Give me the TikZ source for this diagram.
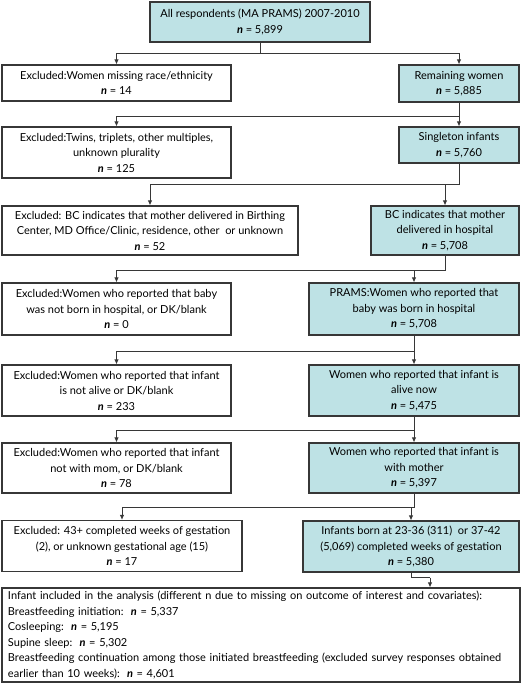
\documentclass[tikz,border=0pt]{standalone}
\usepackage{fontspec}
\setmainfont{Lato}
\usetikzlibrary{arrows.meta}
\definecolor{boxteal}{RGB}{190,226,229}
\definecolor{edgegray}{RGB}{55,55,55}
\tikzset{
  exclbox/.style  = {rectangle, draw=edgegray, line width=1.1pt, fill=white,
                     align=center, inner sep=2pt,
                     font=\fontsize{11}{15.5}\selectfont},
  keptbox/.style  = {exclbox, fill=boxteal},
  flowline/.style = {draw=edgegray, line width=0.9pt},
  flowarrow/.style = {flowline, -{Latex[length=5pt,width=4.5pt]}}
}
\newcommand{\nval}{\textbf{\textit{n}}}

\begin{document}
\begin{tikzpicture}[x=1pt, y=-1pt]
  \useasboundingbox (0,0) rectangle (522,685);
  % Top
  \node[keptbox, minimum width=220pt, minimum height=40pt] (all) at (260,22)
    {All respondents (MA PRAMS) 2007-2010\\ \nval{} = 5,899};
  % Row 1
  \node[exclbox, minimum width=229pt, minimum height=36pt] (ex1) at (116.5,83)
    {Excluded:Women missing race/ethnicity\\ \nval{} = 14};
  \node[keptbox, minimum width=120pt, minimum height=37pt] (rem) at (459,83.5)
    {Remaining women\\ \nval{} = 5,885};
  % Row 2
  \node[exclbox, minimum width=229pt, minimum height=51pt] (ex2) at (116.5,152.5)
    {Excluded:Twins, triplets, other multiples,\\ unknown plurality\\ \nval{} = 125};
  \node[keptbox, minimum width=120pt, minimum height=36pt] (sgl) at (459,145)
    {Singleton infants\\ \nval{} = 5,760};
  % Row 3
  \node[exclbox, minimum width=296pt, minimum height=49pt] (ex3) at (150,230.5)
    {Excluded: BC indicates that mother delivered in Birthing\\
     Center, MD Office/Clinic, residence, other\ \ or unknown\\ \nval{} = 52};
  \node[keptbox, minimum width=148pt, minimum height=49pt] (hosp) at (445,230.5)
    {BC indicates that mother\\ delivered in hospital\\ \nval{} = 5,708};
  % Row 4
  \node[exclbox, minimum width=229pt, minimum height=52pt] (ex4) at (116.5,309)
    {Excluded:Women who reported that baby\\ was not born in hospital, or DK/blank\\ \nval{} = 0};
  \node[keptbox, minimum width=210pt, minimum height=52pt] (prams) at (414,309)
    {PRAMS:Women who reported that\\ baby was born in hospital\\ \nval{} = 5,708};
  % Row 5
  \node[exclbox, minimum width=229pt, minimum height=51pt] (ex5) at (116.5,390.5)
    {Excluded:Women who reported that infant\\ is not alive or DK/blank\\ \nval{} = 233};
  \node[keptbox, minimum width=210pt, minimum height=51pt] (alive) at (414,390.5)
    {Women who reported that infant is\\ alive now\\ \nval{} = 5,475};
  % Row 6
  \node[exclbox, minimum width=229pt, minimum height=50pt] (ex6) at (116.5,468)
    {Excluded:Women who reported that infant\\ not with mom, or DK/blank\\ \nval{} = 78};
  \node[keptbox, minimum width=210pt, minimum height=50pt] (mother) at (414,468)
    {Women who reported that infant is\\ with mother\\ \nval{} = 5,397};
  % Row 7
  \node[exclbox, minimum width=240pt, minimum height=51pt] (ex7) at (122,546)
    {Excluded: 43+ completed weeks of gestation\\ (2), or unknown gestational age (15)\\ \nval{} = 17};
  \node[keptbox, minimum width=216pt, minimum height=51pt] (gest) at (411,546.5)
    {Infants born at 23-36 (311)\ \ or 37-42\\ (5,069) completed weeks of gestation\\ \nval{} = 5,380};
  % Analysis sample
  \node[exclbox, align=left, text width=506pt, inner xsep=6pt,
        minimum height=94pt] (incl) at (261,635)
    {Infant included in the analysis (different n due to missing on outcome of interest and covariates):\\
     Breastfeeding initiation:\ \ \nval{} = 5,337\\
     Cosleeping:\ \ \nval{} = 5,195\\
     Supine sleep:\ \ \nval{} = 5,302\\
     Breastfeeding continuation among those initiated breastfeeding (excluded survey responses obtained\\
     earlier than 10 weeks):\ \ \nval{} = 4,601};
  % Connectors
  \draw[flowline] (all.south) -- ++(0,11) coordinate (j0);
  \draw[flowarrow] (j0) -| (ex1.north);
  \draw[flowarrow] (j0) -| (rem.north);
  \draw[flowline] (rem.south) -- ++(0,14) coordinate (j1);
  \draw[flowarrow] (j1) -| (ex2.north);
  \draw[flowarrow] (j1) -- (sgl.north);
  \draw[flowline] (sgl.south) -- ++(0,21) coordinate (j2);
  \draw[flowarrow] (j2) -| (ex3.north);
  \draw[flowarrow] (j2 -| hosp.north) -- (hosp.north);
  \draw[flowline] (hosp.south) -- ++(0,15) coordinate (j3);
  \draw[flowarrow] (j3) -| (ex4.north);
  \draw[flowarrow] (j3 -| prams.north) -- (prams.north);
  \draw[flowline] (prams.south) -- ++(0,16) coordinate (j4);
  \draw[flowarrow] (j4) -| (ex5.north);
  \draw[flowarrow] (j4) -- (alive.north);
  \draw[flowline] (alive.south) -- ++(0,14) coordinate (j5);
  \draw[flowarrow] (j5) -| (ex6.north);
  \draw[flowarrow] (j5) -- (mother.north);
  \draw[flowline] (mother.south) -- ++(0,14) coordinate (j6);
  \draw[flowarrow] (j6) -| (ex7.north);
  \draw[flowarrow] (j6 -| gest.north) -- (gest.north);
  \draw[flowline] (gest.south) -- ++(0,5) -- ++(19,0) coordinate (j7);
  \draw[flowarrow] (j7) -- (j7 |- incl.north);
\end{tikzpicture}
\end{document}
